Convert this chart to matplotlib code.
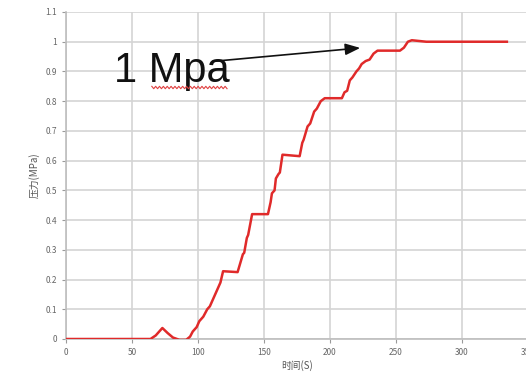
import numpy as np
import matplotlib
matplotlib.use("Agg")
import matplotlib.pyplot as plt

plt.rcParams['font.family'] = ['Noto Sans CJK SC', 'DejaVu Sans']

# time (s) and pressure (MPa)
t = [0, 64, 68, 73, 77, 81, 86, 91, 94, 96,
     99, 101, 104, 107, 109, 111, 113, 115, 117, 119,
     130, 132, 134, 135, 137, 138, 141, 153, 155, 156,
     158, 159, 161, 162, 164, 177, 179, 180, 183, 185,
     188, 190, 193, 196, 209, 211, 213, 215, 217, 220,
     222, 224, 227, 230, 233, 236, 253, 256, 259, 262,
     273, 334]
p = [0, 0, 0.012, 0.037, 0.02, 0.005, -0.003, -0.003, 0.008, 0.025,
     0.04, 0.06, 0.075, 0.1, 0.11, 0.13, 0.15, 0.17, 0.19, 0.228,
     0.225, 0.255, 0.285, 0.29, 0.34, 0.35, 0.42, 0.42, 0.46, 0.49,
     0.5, 0.54, 0.555, 0.56, 0.62, 0.615, 0.66, 0.67, 0.715, 0.725,
     0.765, 0.775, 0.8, 0.81, 0.81, 0.83, 0.835, 0.87, 0.88, 0.9,
     0.91, 0.925, 0.935, 0.94, 0.96, 0.97, 0.97, 0.98, 1.0, 1.005,
     1.0, 1.0]

xticks = [0, 50, 100, 150, 200, 250, 300, 350]
yticks = [0, 0.1, 0.2, 0.3, 0.4, 0.5, 0.6, 0.7, 0.8, 0.9, 1, 1.1]
ylabels = ['0', '0.1', '0.2', '0.3', '0.4', '0.5', '0.6', '0.7', '0.8', '0.9', '1', '1.1']

fig = plt.figure(figsize=(5.26, 3.74), dpi=100)
ax = fig.add_axes([66/526, 1 - 339/374, 462/526, 327/374])

ax.plot(t, p, color='#e02a2a', lw=1.8, zorder=3)

ax.set_xlim(0, 350)
ax.set_ylim(0, 1.1)
ax.set_xticks(xticks)
ax.set_yticks(yticks)
ax.set_yticklabels(ylabels)
ax.grid(True, color='#d4d4d4', lw=1.2)
ax.set_axisbelow(True)
for s in ['top', 'right']:
    ax.spines[s].set_visible(False)
for s in ['left', 'bottom']:
    ax.spines[s].set_color('#bdbdbd')
    ax.spines[s].set_linewidth(1.2)
ax.tick_params(colors='#9a9a9a', labelsize=6, length=3, labelcolor='#666666')

ax.set_xlabel('时间(S)', fontsize=7, color='#555555', labelpad=2)
ax.set_ylabel('压力(MPa)', fontsize=7, color='#555555', labelpad=4)

# annotation
ax.text(36, 0.865, '1 Mpa', fontsize=30, family='Liberation Sans',
        va='baseline', ha='left', color='#111111', zorder=4)
ax.annotate('', xy=(225, 0.98), xytext=(109, 0.933),
            arrowprops=dict(arrowstyle='-|>,head_length=0.9,head_width=0.35',
                            color='#111111', lw=1.2), zorder=4)
# spellcheck squiggle under "Mpa"
sx = np.linspace(65, 122, 40)
sy = 0.846 + 0.004 * np.where(np.arange(40) % 2 == 0, 1, -1)
ax.plot(sx, sy, color='#e04040', lw=0.8, zorder=4)

plt.savefig('out.png', dpi=100)
